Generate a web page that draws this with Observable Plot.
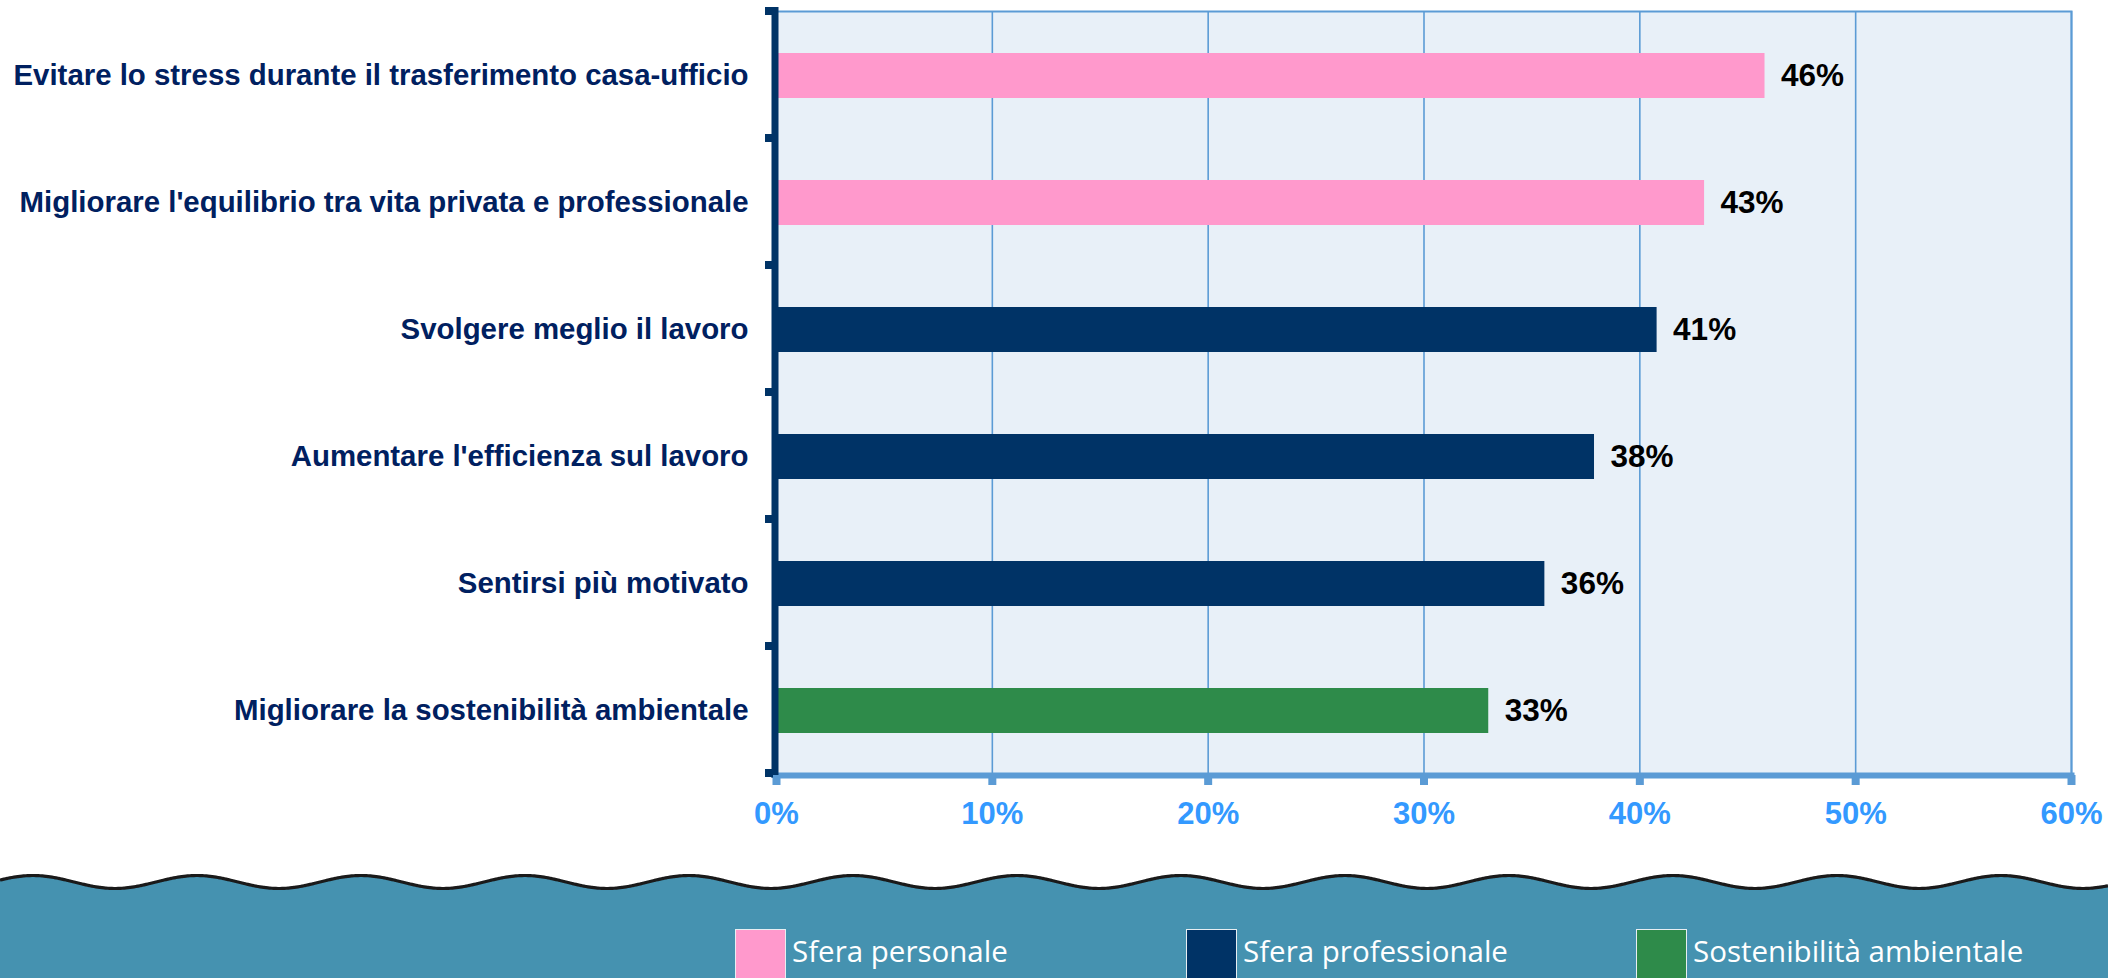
<!DOCTYPE html>
<html>
<head>
<meta charset="utf-8">
<script src="https://cdn.jsdelivr.net/npm/d3@7"></script>
<script src="https://cdn.jsdelivr.net/npm/@observablehq/plot@0.6"></script>
<style>
  html, body { margin: 0; padding: 0; background: #ffffff; }
  #wrap { width: 2108px; height: 978px; position: relative; overflow: hidden; }
  #chart svg { display: block; }
  #footer { position: absolute; left: 0; top: 860px; width: 2108px; height: 118px; }
  #footer svg { position: absolute; left: 0; top: 0; }
  .leg { position: absolute; top: 69px; display: flex; align-items: flex-start; }
  .sw { width: 49px; height: 60px; border: 1px solid #e8eef2; border-bottom: none; }
  .lt { font-family: "Open Sans", "Noto Sans", sans-serif; font-size: 29.5px; color: #ffffff; margin-left: 6px; margin-top: 5px; line-height: 34px; }
</style>
</head>
<body>
<div id="wrap">
  <div id="chart"></div>
  <div id="footer"></div>
</div>
<script>
const categories = [
  "Evitare lo stress durante il trasferimento casa-ufficio",
  "Migliorare l'equilibrio tra vita privata e professionale",
  "Svolgere meglio il lavoro",
  "Aumentare l'efficienza sul lavoro",
  "Sentirsi più motivato",
  "Migliorare la sostenibilità ambientale"
];
const values = [45.8, 43.0, 40.8, 37.9, 35.6, 33.0];
const groups = [
  "Sfera personale", "Sfera personale",
  "Sfera professionale", "Sfera professionale", "Sfera professionale",
  "Sostenibilità ambientale"
];
const groupNames = ["Sfera personale", "Sfera professionale", "Sostenibilità ambientale"];
const groupColors = ["#ff99cc", "#003366", "#2e8b4a"];
const xTicks = [0, 10, 20, 30, 40, 50, 60];

const data = categories.map((c, i) => ({cat: c, value: values[i], group: groups[i]}));

const W = 2108, H = 860;
const plot = Plot.plot({
  width: W,
  height: H,
  marginTop: 11,
  marginBottom: 85,
  marginLeft: 776,
  marginRight: 37,
  style: {fontFamily: "'Liberation Sans', Arial, sans-serif", background: "transparent"},
  x: {domain: [0, 60], ticks: xTicks},
  y: {domain: categories, paddingInner: 0.646, paddingOuter: 0.323, align: 0.5},
  color: {domain: groupNames, range: groupColors},
  marks: [
    Plot.frame({fill: "#e8f0f8", stroke: null}),
    Plot.gridX(xTicks, {stroke: "#5b9bd5", strokeOpacity: 1, strokeWidth: 1.6}),
    Plot.frame({stroke: "#5b9bd5", strokeWidth: 2}),
    Plot.barX(data, {x: "value", y: "cat", fill: "group", insetLeft: 2}),
    Plot.text(data, {
      x: "value", y: "cat", text: d => Math.round(d.value) + "%",
      textAnchor: "start", dx: 16, fontSize: 31.5, fontWeight: "bold", fill: "#000000"
    }),
    Plot.frame({anchor: "bottom", stroke: "#5b9bd5", strokeWidth: 6}),
    Plot.ruleX([0], {stroke: "#003366", strokeWidth: 7, dx: -1.5, insetTop: -4, insetBottom: -3}),
    Plot.axisX({
      ticks: xTicks, tickSize: 10, tickPadding: 16, tickFormat: d => d + "%",
      stroke: "#5b9bd5", strokeWidth: 8, fill: "#3399ff",
      fontSize: 31, fontWeight: "bold", label: null
    }),
    Plot.axisY({
      tickSize: 0, tickPadding: 28, fill: "#002060",
      fontSize: 29.4, fontWeight: "bold", label: null
    })
  ]
});
document.getElementById("chart").appendChild(plot);

// band-boundary tick stubs on the left axis (from the y scale)
const ys = plot.scale("y");
const xs = plot.scale("x");
const svg = d3.select(plot);
const x0 = xs.range[0];
const gStub = svg.append("g");
for (let i = 0; i <= categories.length; i++) {
  const yy = ys.range[0] + i * ys.step;
  gStub.append("line")
    .attr("x1", x0 - 11).attr("x2", x0 - 3)
    .attr("y1", yy).attr("y2", yy)
    .attr("stroke", "#003366").attr("stroke-width", 8);
}

// footer band with wavy top edge and legend
const footer = d3.select("#footer");
const fs = footer.append("svg").attr("width", W).attr("height", 118);
const pts = [];
for (let x = 0; x <= W; x += 2) {
  pts.push([x, 22 - 6.5 * Math.cos(2 * Math.PI * (x - 33) / 164)]);
}
const line = d3.line().curve(d3.curveBasis);
fs.append("path")
  .attr("d", line(pts) + `L${W},118L0,118Z`)
  .attr("fill", "#4592b0");
fs.append("path")
  .attr("d", line(pts))
  .attr("fill", "none").attr("stroke", "#1a1a1a").attr("stroke-width", 3.2);

const legLeft = [735, 1186, 1636];
groupNames.forEach((g, i) => {
  const item = footer.append("div").attr("class", "leg").style("left", legLeft[i] + "px");
  item.append("div").attr("class", "sw").style("background", groupColors[i]);
  item.append("div").attr("class", "lt").text(g);
});
</script>
</body>
</html>
